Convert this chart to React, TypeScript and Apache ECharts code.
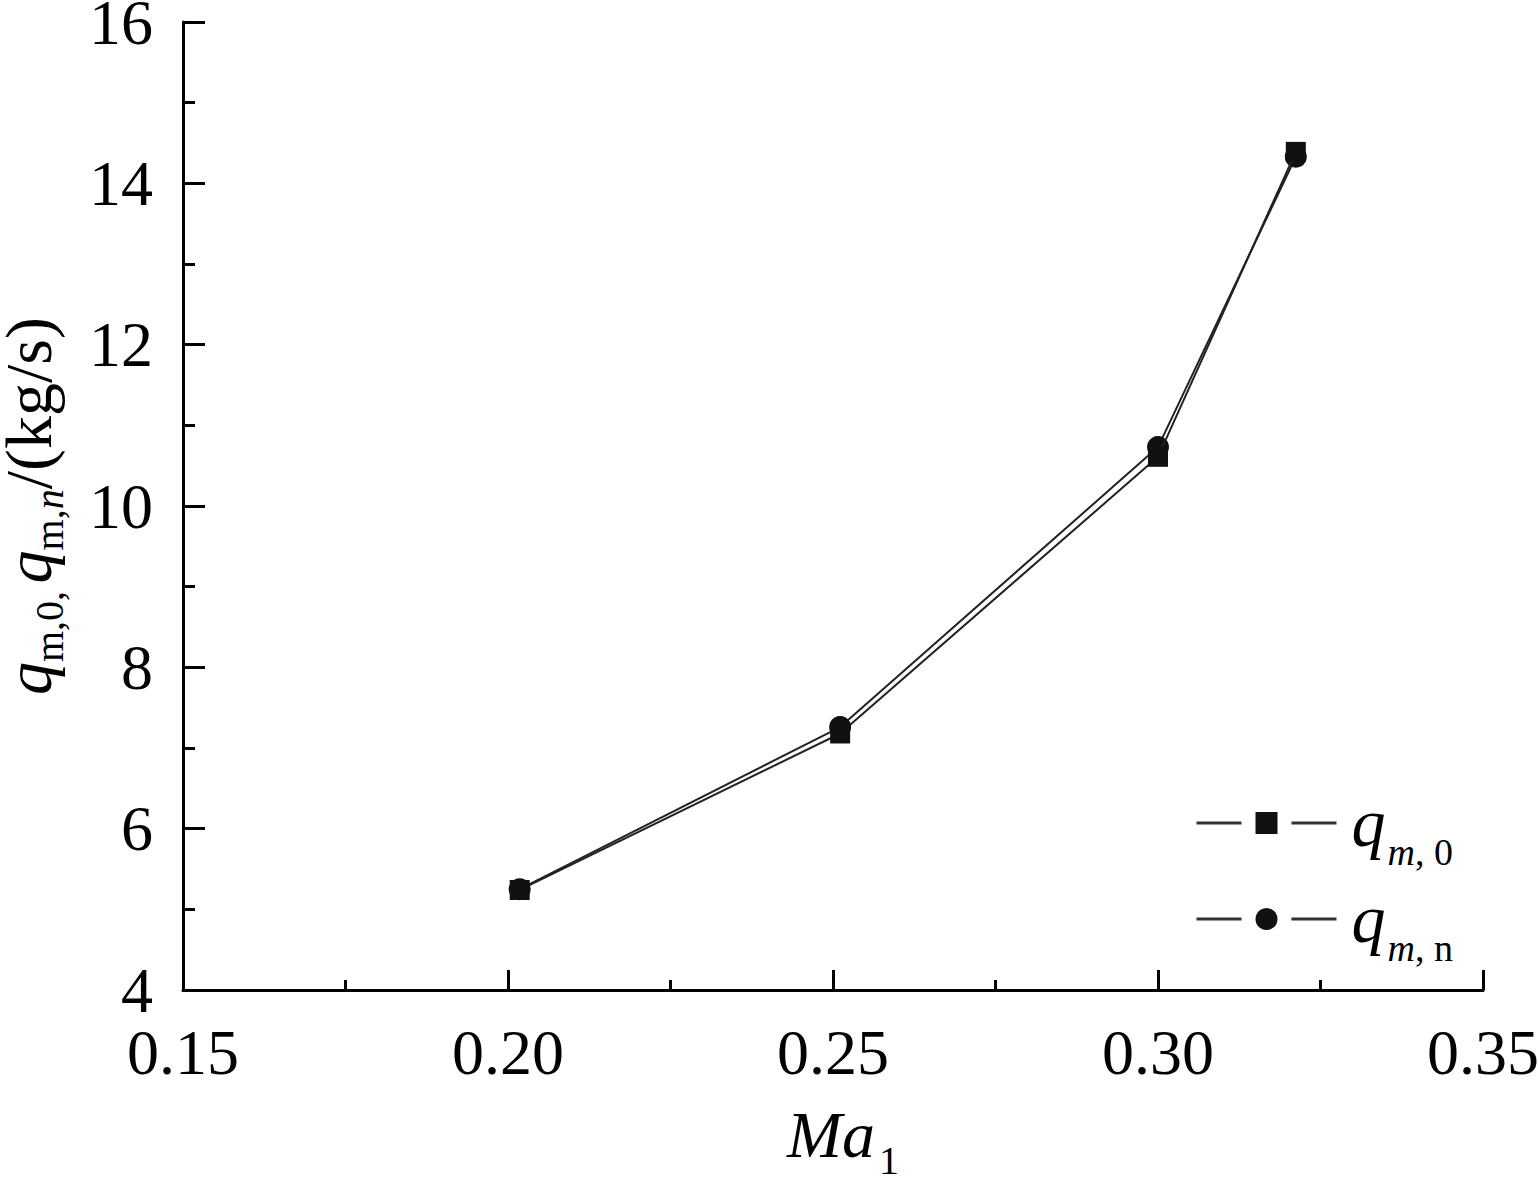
import React, { useEffect, useRef } from "react";
import * as echarts from "echarts";

const maValues = [0.2018, 0.2511, 0.3, 0.3212];
const qm0Values = [5.24, 7.18, 10.61, 14.39];
const qmnValues = [5.25, 7.26, 10.73, 14.33];
const xTicks = [0.15, 0.2, 0.25, 0.3, 0.35];
const yTicks = [4, 6, 8, 10, 12, 14, 16];

const FONT = "'Liberation Serif', 'Times New Roman', serif";

export default function App() {
  const ref = useRef<HTMLDivElement>(null);
  useEffect(() => {
    if (!ref.current) return;
    const chart = echarts.init(ref.current, undefined, { renderer: "svg" });
    const axisLine = { show: true, lineStyle: { color: "#000", width: 3 } };
    const subStyle = { fontFamily: FONT, fontSize: 40, lineHeight: 20, color: "#000", padding: [56, 0, 0, 0] };
    const ySub = { fontFamily: FONT, fontSize: 40, lineHeight: 40, color: "#000", verticalAlign: "bottom" };
    const yMain = { fontFamily: FONT, fontSize: 66, lineHeight: 66, color: "#000", padding: [0, 0, 15, 0] };
    chart.setOption({
      animation: false,
      backgroundColor: "#fff",
      grid: { left: 183, right: 55, top: 22, bottom: 189, containLabel: false, outerBoundsMode: "none" },
      xAxis: {
        type: "value",
        min: xTicks[0],
        max: xTicks[xTicks.length - 1],
        interval: 0.05,
        axisLine,
        axisTick: { show: true, inside: true, length: 20, lineStyle: { color: "#000", width: 3 } },
        minorTick: { show: true, splitNumber: 2, length: 10, lineStyle: { color: "#000", width: 3 } },
        splitLine: { show: false },
        axisLabel: {
          margin: 30,
          fontFamily: FONT,
          fontSize: 64,
          color: "#000",
          formatter: (v: number) => v.toFixed(2),
        },
        name: "{i|Ma}{s|1}",
        nameLocation: "middle",
        nameGap: 110,
        nameTextStyle: {
          rich: {
            i: { fontFamily: FONT, fontSize: 66, fontStyle: "italic", color: "#000", lineHeight: 66, padding: [0, 0, 0, 20] },
            s: { ...subStyle, fontSize: 40, lineHeight: 20, padding: [52, 0, 0, 4] },
          },
        },
      },
      yAxis: {
        type: "value",
        min: yTicks[0],
        max: yTicks[yTicks.length - 1],
        interval: 2,
        axisLine,
        axisTick: { show: true, inside: true, length: 22, lineStyle: { color: "#000", width: 3 } },
        minorTick: { show: true, splitNumber: 2, length: 12, lineStyle: { color: "#000", width: 3 } },
        splitLine: { show: false },
        axisLabel: { margin: 30, fontFamily: FONT, fontSize: 64, color: "#000" },
        name: "{q|q}{a|m,0,}{sp| }{q|q}{a|m,}{b|n}{d|/(kg/s)}",
        nameLocation: "middle",
        nameRotate: 90,
        nameGap: 114,
        nameTextStyle: {
          rich: {
            q: { ...yMain, fontStyle: "italic" },
            a: { ...ySub },
            b: { ...ySub, fontStyle: "italic" },
            sp: { ...yMain, fontSize: 30 },
            d: { ...yMain },
          },
        },
      },
      legend: {
        orient: "vertical",
        left: 1190,
        top: 770,
        itemWidth: 140,
        itemHeight: 45,
        itemGap: 0,
        itemStyle: { borderColor: "#fff", borderWidth: 14 },
        lineStyle: { color: "#333", width: 3 },
        data: ["q0", "qn"],
        formatter: (name: string) =>
          name === "q0" ? "{q|q}{m|m}{r|, 0}" : "{q|q}{m|m}{r|, n}",
        textStyle: {
          rich: {
            q: { fontFamily: FONT, fontSize: 68, fontStyle: "italic", color: "#000", lineHeight: 68, padding: [0, 0, 0, 10] },
            m: { ...subStyle, fontSize: 38, lineHeight: 18, padding: [58, 0, 0, 2], fontStyle: "italic" },
            r: { ...subStyle, fontSize: 38, lineHeight: 18, padding: [58, 0, 0, 0] },
          },
        },
      },
      series: [
        {
          name: "q0",
          type: "line",
          data: maValues.map((x, i) => [x, qm0Values[i]]),
          symbol: "rect",
          symbolSize: 20,
          itemStyle: { color: "#111" },
          lineStyle: { color: "#222", width: 2 },
          z: 3,
        },
        {
          name: "qn",
          type: "line",
          data: maValues.map((x, i) => [x, qmnValues[i]]),
          symbol: "circle",
          symbolSize: 22,
          itemStyle: { color: "#111" },
          lineStyle: { color: "#222", width: 2 },
          z: 2,
        },
      ],
    });
    return () => chart.dispose();
  }, []);
  return (
    <div
      ref={ref}
      style={{ position: "fixed", left: 0, top: 0, width: 1538, height: 1179, background: "#fff" }}
    />
  );
}
